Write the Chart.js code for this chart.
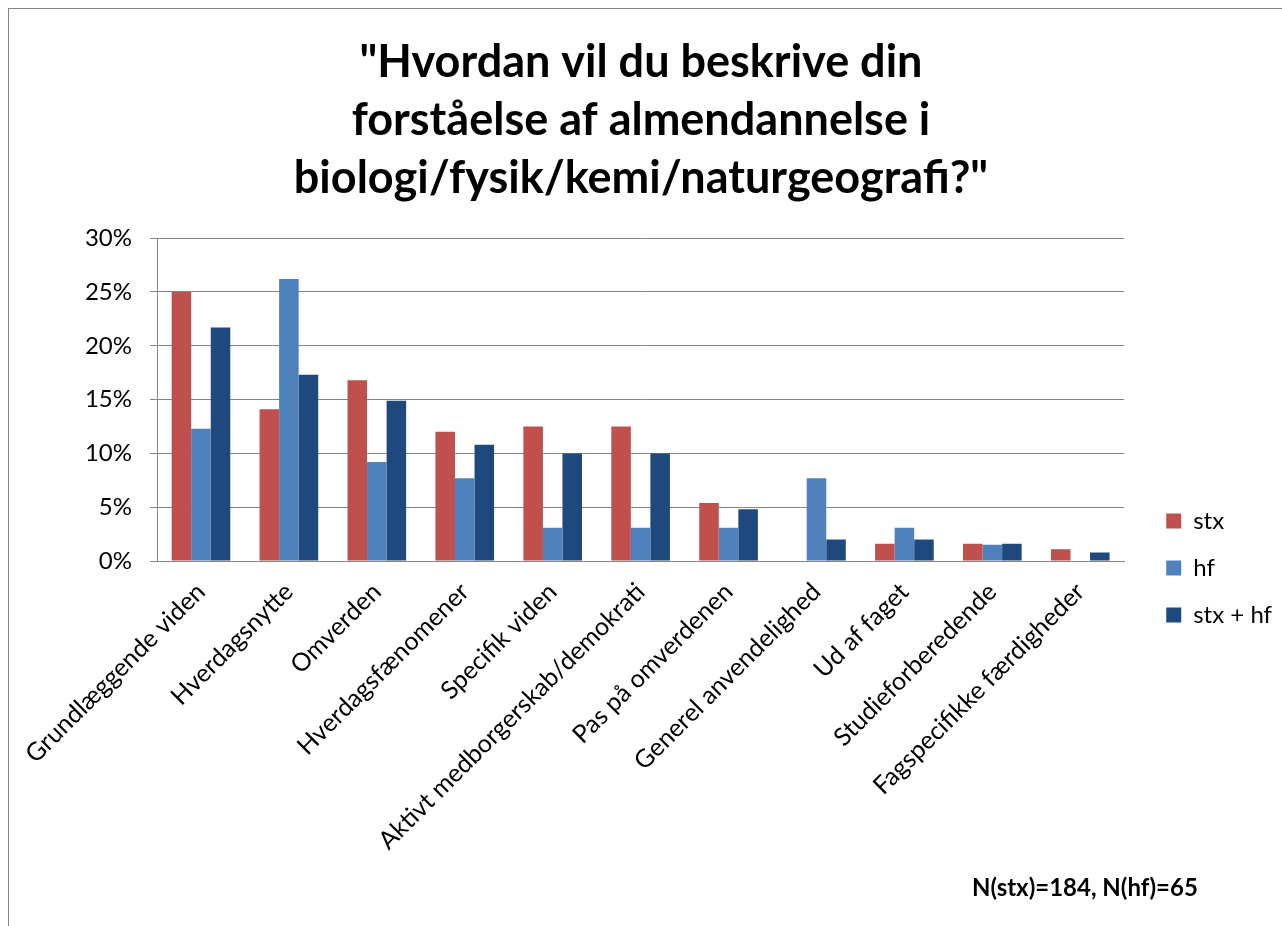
<!DOCTYPE html>
<html lang="da">
<head>
<meta charset="UTF-8">
<title>Almendannelse</title>
<script src="https://cdn.jsdelivr.net/npm/chart.js@4.4.1/dist/chart.umd.min.js"></script>
<style>
    html, body { margin: 0; padding: 0; background: #fff; overflow: hidden; }
    #frame { position: absolute; left: 8px; top: 8px; width: 1320px; height: 980px; border: 1px solid #858585; }
    #chart { position: absolute; left: 0; top: 0; }
    #note { position: absolute; left: 972px; top: 873px; font: bold 24px/28px Lato, sans-serif; color: #000; white-space: nowrap; }
</style>
</head>
<body>
<div id="frame"></div>
<canvas id="chart" width="1282" height="926"></canvas>
<div id="note">N(stx)=184, N(hf)=65</div>

<script>
    // categories and shares (%)
    const categories = ['Grundlæggende viden', 'Hverdagsnytte', 'Omverden', 'Hverdagsfænomener',
        'Specifik viden', 'Aktivt medborgerskab/demokrati', 'Pas på omverdenen',
        'Generel anvendelighed', 'Ud af faget', 'Studieforberedende', 'Fagspecifikke færdigheder'];
    const stx   = [25.0, 14.1, 16.8, 12.0, 12.5, 12.5, 5.4, 0, 1.6, 1.6, 1.1];
    const hf    = [12.3, 26.2, 9.2, 7.7, 3.1, 3.1, 3.1, 7.7, 3.1, 1.5, 0];
    const stxHf = [21.7, 17.3, 14.9, 10.8, 10.0, 10.0, 4.8, 2.0, 2.0, 1.6, 0.8];
    const yTicks = [0, 5, 10, 15, 20, 25, 30];

    const titleLines = ['"Hvordan vil du beskrive din', 'forståelse af almendannelse i', 'biologi/fysik/kemi/naturgeografi?"'];

    const labelFont = { family: 'Lato', size: 24 };
    const gridGrey = '#868686';

    new Chart(document.getElementById('chart'), {
        type: 'bar',
        data: {
            labels: categories,
            datasets: [
                { label: 'stx', data: stx, backgroundColor: '#C0504D' },
                { label: 'hf', data: hf, backgroundColor: '#4F81BD' },
                { label: 'stx + hf', data: stxHf, backgroundColor: '#1F497D' }
            ]
        },
        options: {
            responsive: false,
            animation: false,
            categoryPercentage: 0.667,
            barPercentage: 1.0,
            plugins: {
                title: {
                    display: true,
                    text: titleLines,
                    color: '#000',
                    font: { family: 'Lato', size: 45, weight: 'bold', lineHeight: 1.29 },
                    padding: { top: 33, bottom: 31 }
                },
                legend: {
                    position: 'right',
                    align: 'center',
                    // empty title only pushes the entries down to where they sit in the original
                    title: { display: true, text: ' ', font: { size: 10, lineHeight: 1 }, padding: { top: 0, bottom: 200 } },
                    labels: { boxWidth: 15, boxHeight: 15, padding: 23, color: '#000', font: labelFont }
                },
                tooltip: { enabled: false }
            },
            scales: {
                x: {
                    grid: { display: false },
                    border: { color: gridGrey },
                    ticks: { minRotation: 45, maxRotation: 45, autoSkip: false, color: '#000', font: { family: 'Lato', size: 25 }, padding: 8 },
                    afterFit: s => { s.height = 365; }
                },
                y: {
                    min: 0,
                    max: 30,
                    afterBuildTicks: s => { s.ticks = yTicks.map(v => ({ value: v })); },
                    ticks: { callback: v => v + '%', color: '#000', font: labelFont, padding: 18 },
                    grid: { color: gridGrey, tickLength: 7 },
                    border: { color: gridGrey },
                    afterFit: s => { s.width = 157; }
                },
                // empty spacer between plot and legend
                spacer: {
                    type: 'linear',
                    position: 'right',
                    grid: { display: false },
                    border: { display: false },
                    ticks: { display: false },
                    afterFit: s => { s.width = 19; }
                }
            }
        }
    });
</script>
</body>
</html>
